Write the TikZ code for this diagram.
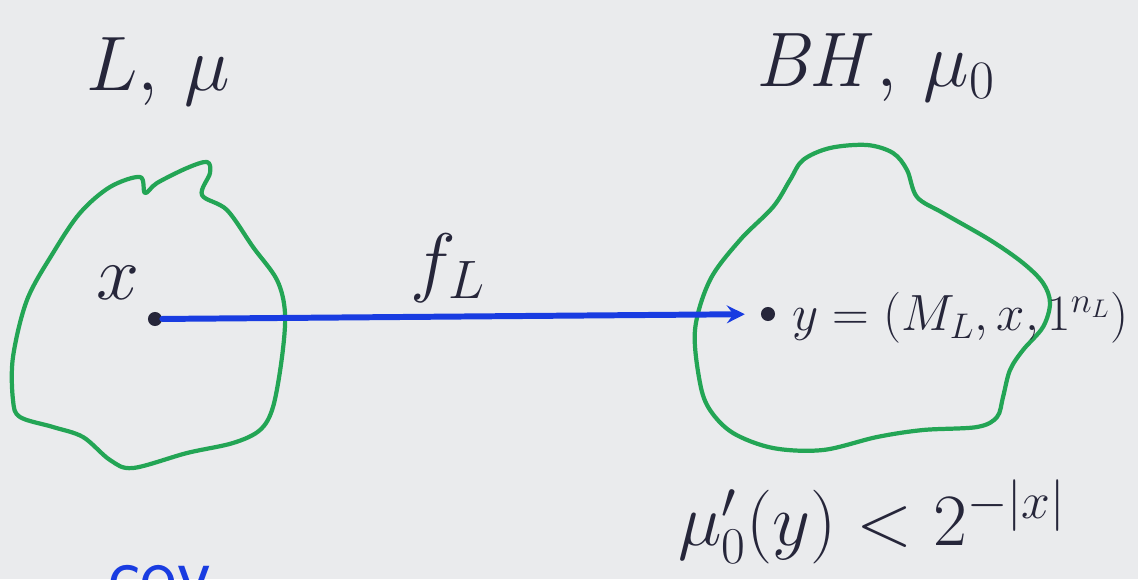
\RequirePackage{fix-cm}
\documentclass[tikz,border=0pt]{standalone}
\usepackage{amsmath}
\definecolor{ink}{RGB}{38,38,58}
\definecolor{penblue}{RGB}{25,60,225}
\definecolor{pengreen}{RGB}{35,165,85}
\definecolor{board}{RGB}{234,235,237}
\begin{document}
\begin{tikzpicture}[x=0.02cm, y=-0.02cm, >=stealth, line cap=round, line join=round,
  every node/.style={text=ink, inner sep=0pt},
  big/.style={font=\fontsize{44}{50}\selectfont},
  mid/.style={font=\fontsize{29}{33}\selectfont},
  blob/.style={draw=pengreen, line width=2.4pt},
  dot/.style={circle, fill=ink, inner sep=0pt, minimum size=8pt}]
  % Tafel
  \fill[board] (0,0) rectangle (1138,579);
  \useasboundingbox (0,0) rectangle (1138,579);

  % Mengen
  \draw[blob] plot[smooth cycle, tension=0.55] coordinates {(80,213) (110,187) (140,177) (145,193) (157,183) (187,168) (207,162) (210,173) (202,195) (227,210) (253,247) (277,280) (285,313) (282,357) (273,407) (260,430) (233,443) (187,453) (133,468) (110,460) (83,437) (53,427) (20,417) (13,400) (13,357) (27,300) (53,253)};
  \draw[blob] plot[smooth cycle, tension=0.55] coordinates {(790,180) (803,160) (830,148) (867,145) (893,153) (907,170) (917,197) (943,213) (990,240) (1023,263) (1043,283) (1050,303) (1043,327) (1023,350) (1010,370) (1003,397) (997,417) (977,427) (923,430) (877,437) (823,450) (773,448) (733,433) (710,410) (700,383) (695,330) (710,280) (740,240) (773,207)};

  % Beschriftung
  \node[big] (lang) at (158,72) {$L,\,\mu$};
  \node[big] (bh) at (875,68) {$\mathit{BH},\,\mu_0$};
  \node[dot] (xdot) at (155,319) {};
  \node[dot] (ydot) at (768,314) {};
  \node[big] (xlab) at (118,283) {$x$};
  \node[big] (flab) at (448,268) {$f_L$};
  \node[mid, anchor=west] (ylab) at (792,318) {$y=(M_L,x,1^{n_L})$};
  \node[big, font=\fontsize{42}{48}\selectfont] (bound) at (872,522) {$\mu_0'(y)<2^{-|x|}$};
  \node[big, text=penblue, anchor=north] (cut) at (160,566) {$\mathsf{cov}$};

  % Reduktion
  \draw[->, penblue, line width=3.4pt, shorten >=9pt] (xdot) -- (ydot);
\end{tikzpicture}
\end{document}
